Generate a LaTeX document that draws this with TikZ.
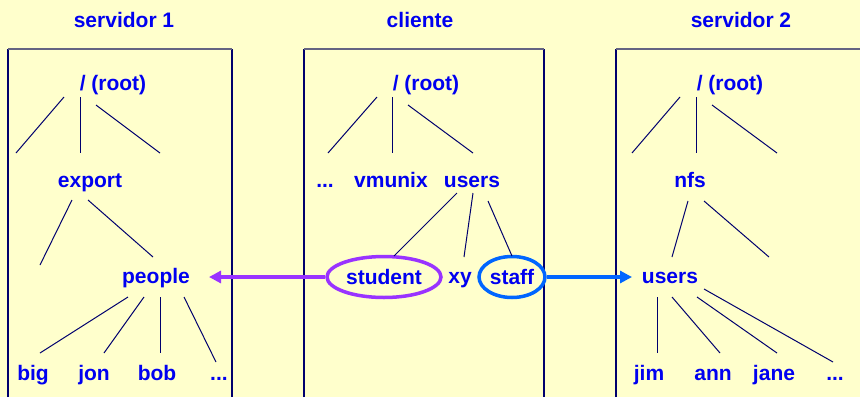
\documentclass[tikz,border=0pt]{standalone}
\usepackage{fontspec}
\setmainfont{Liberation Sans}
\usetikzlibrary{arrows.meta,shapes.geometric}
\definecolor{bgc}{RGB}{255,255,204}
\definecolor{txt}{RGB}{0,0,240}
\definecolor{navy}{RGB}{0,0,110}
\definecolor{topc}{RGB}{100,100,130}
\definecolor{purp}{RGB}{153,51,255}
\definecolor{blu}{RGB}{0,102,255}
\begin{document}
\begin{tikzpicture}[x=1pt,y=-1pt,
  lbl/.style={anchor=base,text=txt,font=\fontsize{21}{24}\selectfont\bfseries,inner sep=0pt},
  br/.style={draw=navy,line width=1pt},
  side/.style={draw=navy,line width=1.3pt},
  topline/.style={draw=topc,line width=1.3pt},
  ring/.style={ellipse,draw=#1,line width=3.5pt,inner sep=0pt,minimum height=41pt,text=txt,font=\fontsize{21}{24}\selectfont\bfseries},
  link/.style={draw=#1,line width=3.5pt,-{Triangle[length=12pt,width=12pt]}}]
\fill[bgc] (0,0) rectangle (860,397);
\useasboundingbox (0,0) rectangle (860,397);
% frames
\draw[side] (8,397) -- (8,49);
\draw[side] (232,49) -- (232,397);
\draw[topline] (8,49) -- (232,49);
\draw[side] (304,397) -- (304,49);
\draw[side] (544,49) -- (544,397);
\draw[topline] (304,49) -- (544,49);
\draw[side] (616,397) -- (616,49);
\draw[topline] (616,49) -- (862,49);
% titles
\node[lbl] (t1) at (124,27) {servidor 1};
\node[lbl] (t2) at (420,27) {cliente};
\node[lbl] (t3) at (741,27) {servidor 2};
% tree 1
\node[lbl] (r1) at (113,90) {/ (root)};
\node[lbl] (e1) at (90,187) {export};
\node[lbl] (p1) at (156,283) {people};
\node[lbl] (big) at (33,380) {big};
\node[lbl] (jon) at (94,380) {jon};
\node[lbl] (bob) at (157,380) {bob};
\node[lbl] (d1) at (219,380) {...};
\coordinate (a1) at (64,97);  \coordinate (a2) at (16,153);
\coordinate (a3) at (80,97);  \coordinate (a4) at (80,153);
\coordinate (a5) at (96,105); \coordinate (a6) at (160,153);
\coordinate (b1) at (72,200); \coordinate (b2) at (40,265);
\coordinate (b3) at (88,200); \coordinate (b4) at (153,257);
\coordinate (c1) at (128,297); \coordinate (c2) at (40,353);
\coordinate (c3) at (144,297); \coordinate (c4) at (104,353);
\coordinate (c5) at (160,297); \coordinate (c6) at (160,353);
\coordinate (c7) at (184,297); \coordinate (c8) at (216,362);
\draw[br] (a1) -- (a2); \draw[br] (a3) -- (a4); \draw[br] (a5) -- (a6);
\draw[br] (b1) -- (b2); \draw[br] (b3) -- (b4);
\draw[br] (c1) -- (c2); \draw[br] (c3) -- (c4); \draw[br] (c5) -- (c6); \draw[br] (c7) -- (c8);
% tree 2 (cliente)
\node[lbl] (r2) at (426,90) {/ (root)};
\node[lbl] (dd) at (325,187) {...};
\node[lbl] (vm) at (391,187) {vmunix};
\node[lbl] (us) at (472,187) {users};
\node[ring=purp,minimum width=114pt] (st) at (384,277) {student};
\node[lbl] (xy) at (460,283) {xy};
\node[ring=blu,minimum width=66pt] (sf) at (512,277) {staff};
\coordinate (g1) at (377,97);  \coordinate (g2) at (328,153);
\coordinate (g3) at (392,97);  \coordinate (g4) at (392,153);
\coordinate (g5) at (408,105); \coordinate (g6) at (473,153);
\coordinate (h1) at (457,193); \coordinate (h2) at (394,256);
\coordinate (h3) at (473,193); \coordinate (h4) at (464,257);
\coordinate (h5) at (488,201); \coordinate (h6) at (512,256);
\draw[br] (g1) -- (g2); \draw[br] (g3) -- (g4); \draw[br] (g5) -- (g6);
\draw[br] (h1) -- (h2); \draw[br] (h3) -- (h4); \draw[br] (h5) -- (h6);
% tree 3
\node[lbl] (r3) at (730,90) {/ (root)};
\node[lbl] (nfs) at (690,187) {nfs};
\node[lbl] (u3) at (670,283) {users};
\node[lbl] (jim) at (649,380) {jim};
\node[lbl] (ann) at (713,380) {ann};
\node[lbl] (jane) at (774,380) {jane};
\node[lbl] (d3) at (835,380) {...};
\coordinate (k1) at (680,97);  \coordinate (k2) at (632,153);
\coordinate (k3) at (696,97);  \coordinate (k4) at (696,153);
\coordinate (k5) at (712,105); \coordinate (k6) at (777,153);
\coordinate (m1) at (688,201); \coordinate (m2) at (672,257);
\coordinate (m3) at (704,201); \coordinate (m4) at (769,257);
\coordinate (n1) at (657,297); \coordinate (n2) at (657,353);
\coordinate (n3) at (672,297); \coordinate (n4) at (720,353);
\coordinate (n5) at (697,297); \coordinate (n6) at (777,353);
\coordinate (n7) at (704,289); \coordinate (n8) at (833,362);
\draw[br] (k1) -- (k2); \draw[br] (k3) -- (k4); \draw[br] (k5) -- (k6);
\draw[br] (m1) -- (m2); \draw[br] (m3) -- (m4);
\draw[br] (n1) -- (n2); \draw[br] (n3) -- (n4); \draw[br] (n5) -- (n6); \draw[br] (n7) -- (n8);
% mount arrows
\coordinate (ptip) at (209,277);
\coordinate (utip) at (632,277);
\draw[link=purp] (st.west) -- (ptip);
\draw[link=blu] (sf.east) -- (utip);
\end{tikzpicture}
\end{document}
